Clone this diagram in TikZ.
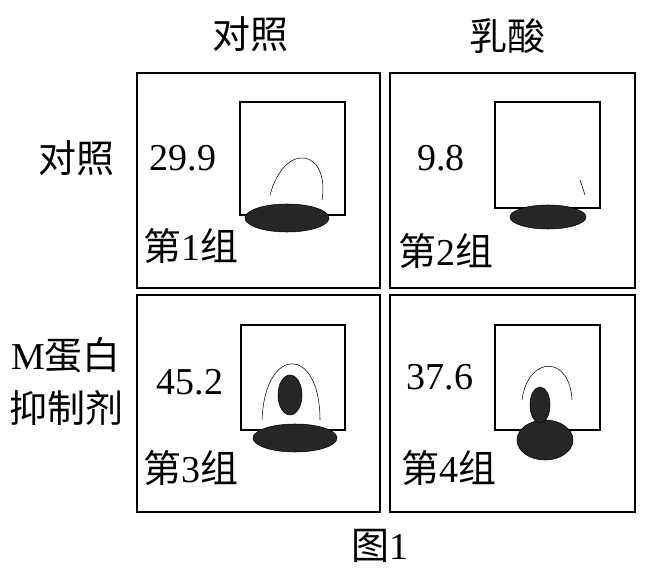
\documentclass[tikz,border=0pt]{standalone}
\usepackage{fontspec}
\setmainfont{Liberation Serif}
\newfontfamily\cjk{Noto Sans CJK SC}
\begin{document}
\begin{tikzpicture}[x=0.75pt,y=-0.75pt,
  panel/.style={draw,line width=1.8pt},
  sq/.style={draw,line width=1.2pt},
  lbl/.style={font=\fontsize{28.5}{30}\selectfont},
  blob/.style={fill=black!85,draw=black}]
\useasboundingbox (0,0) rectangle (655,580);
\node[lbl] (h1) at (250,34) {\cjk 对照};
\node[lbl] (h2) at (507,36) {\cjk 乳酸};
\node[lbl] (r1) at (76,158) {\cjk 对照};
\node[lbl] (r2a) at (66,355) {M\cjk 蛋白};
\node[lbl] (r2b) at (66,408) {\cjk 抑制剂};
\node[lbl] (fig) at (380,546) {\cjk 图\rmfamily 1};
% panels
\draw[panel] (137,73) rectangle (380,288);
\draw[panel] (390,73) rectangle (635,288);
\draw[panel] (137,295) rectangle (380,512);
\draw[panel] (390,295) rectangle (635,512);
% squares
\draw[sq] (240,102) rectangle (345,215);
\draw[sq] (495,102) rectangle (600,208);
\draw[sq] (241,325) rectangle (345,430);
\draw[sq] (495,325) rectangle (600,430);
% blobs
\fill[blob] (287,218) ellipse (42 and 14);
\draw[thin] (270,195) .. controls (285,140) and (330,150) .. (322,200);
\fill[blob] (548,217) ellipse (38 and 12);
\draw[thin] (580,180) -- (585,195);
\fill[blob] (295,438) ellipse (42 and 14);
\fill[blob] (290,395) ellipse (12 and 20);
\draw[thin] (262,420) .. controls (265,345) and (320,345) .. (320,420);
\fill[blob] (545,440) ellipse (28 and 20);
\fill[blob] (540,405) ellipse (10 and 18);
\draw[thin] (522,400) .. controls (528,355) and (570,355) .. (572,400);
% numbers
\node[lbl] (n1) at (183,158) {29.9};
\node[lbl] (n2) at (441,158) {9.8};
\node[lbl] (n3) at (190,382) {45.2};
\node[lbl] (n4) at (440,377) {37.6};
\node[lbl] (g1) at (191,246) {\cjk 第\rmfamily 1\cjk 组};
\node[lbl] (g2) at (446,251) {\cjk 第\rmfamily 2\cjk 组};
\node[lbl] (g3) at (191,468) {\cjk 第\rmfamily 3\cjk 组};
\node[lbl] (g4) at (449,468) {\cjk 第\rmfamily 4\cjk 组};
\end{tikzpicture}
\end{document}
